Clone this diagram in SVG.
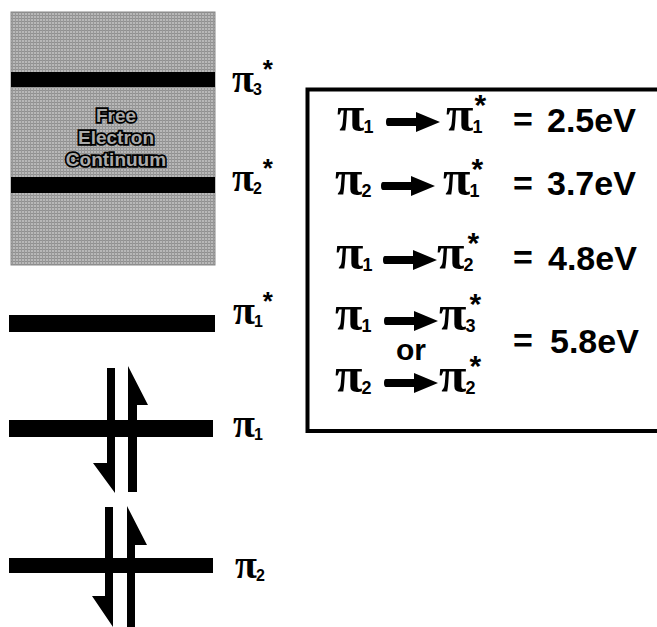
<svg xmlns="http://www.w3.org/2000/svg" width="657" height="627" viewBox="0 0 657 627">
<defs>
<pattern id="tex" width="3" height="3" patternUnits="userSpaceOnUse">
<rect width="3" height="3" fill="#b8b8b8"/>
<rect width="3" height="1" fill="#909090"/>
<rect width="1" height="3" fill="#989898"/>
</pattern>
<g id="arr">
<path d="M2,-4 H30 V-10 L54,0 L30,10 V4 H2 Q0,4 0,0 Q0,-4 2,-4 Z" fill="#000"/>
</g>
<style>
.pi{font-family:"Liberation Serif","DejaVu Serif",serif;font-weight:bold;fill:#000}
.s{font-family:"Liberation Sans",Arial,sans-serif;font-weight:bold;fill:#000}
.lvl{fill:#000}
.fe{font-family:"Liberation Sans",Arial,sans-serif;font-weight:bold;font-size:19px;fill:#aaaaaa;stroke:#000;stroke-width:3.5;paint-order:stroke;text-anchor:middle}
</style>
</defs>
<rect width="657" height="627" fill="#fff"/>

<g id="continuum">
<rect x="11" y="12" width="204" height="253" fill="url(#tex)" stroke="#888" stroke-width="1"/>
<rect x="11" y="72" width="204" height="15" class="lvl"/>
<rect x="11" y="177" width="204" height="16" class="lvl"/>
<text class="fe" x="116" y="122">Free</text>
<text class="fe" x="116" y="144">Electron</text>
<text class="fe" x="116" y="166">Continuum</text>
</g>

<g id="label-pi3s">
<text class="pi" x="232" y="92" font-size="40">π<tspan class="s" font-size="16" dx="-1" dy="3">3</tspan><tspan class="s" font-size="26" dx="1" dy="-17">*</tspan></text>
</g>
<g id="label-pi2s">
<text class="pi" x="232" y="191" font-size="40">π<tspan class="s" font-size="16" dx="-1" dy="3">2</tspan><tspan class="s" font-size="26" dx="1" dy="-17">*</tspan></text>
</g>

<g id="level-pi1s">
<rect x="9" y="315" width="206" height="17" class="lvl"/>
<text class="pi" x="233" y="324" font-size="40">π<tspan class="s" font-size="16" dx="-1" dy="3">1</tspan><tspan class="s" font-size="26" dx="0" dy="-17">*</tspan></text>
</g>

<g id="level-pi1">
<rect x="9" y="420" width="204" height="17" class="lvl"/>
<path d="M107,368 H115 V493 L93,463 H107 Z" class="lvl"/>
<path d="M128,492 V366 L148,405 H137 V492 Z" class="lvl"/>
<text class="pi" x="233" y="437" font-size="40">π<tspan class="s" font-size="16" dx="-1" dy="3">1</tspan></text>
</g>

<g id="level-pi2">
<rect x="9" y="558" width="204" height="15" class="lvl"/>
<path d="M105,507 H113 V627 L92,596 H105 Z" class="lvl"/>
<path d="M127,627 V506 L147,545 H135 V627 Z" class="lvl"/>
<text class="pi" x="235" y="578" font-size="40">π<tspan class="s" font-size="16" dx="-1" dy="3">2</tspan></text>
</g>

<g id="transitions">
<path d="M660,89.5 H307.5 V431 H660" fill="none" stroke="#000" stroke-width="4"/>

<text class="pi" x="337" y="131" font-size="50">π<tspan class="s" font-size="18" dx="-1" dy="2">1</tspan></text>
<use href="#arr" x="386" y="122"/>
<text class="pi" x="446" y="131" font-size="50">π<tspan class="s" font-size="18" dx="-1" dy="2">1</tspan><tspan class="s" font-size="30" dx="-8" dy="-18">*</tspan></text>
<text class="s" x="513" y="131" font-size="34">=</text>
<text class="s" x="547" y="132" font-size="34">2.5eV</text>

<text class="pi" x="335" y="195" font-size="50">π<tspan class="s" font-size="18" dx="-1" dy="2">2</tspan></text>
<use href="#arr" x="381" y="186"/>
<text class="pi" x="443" y="195" font-size="50">π<tspan class="s" font-size="18" dx="-1" dy="2">1</tspan><tspan class="s" font-size="30" dx="-8" dy="-18">*</tspan></text>
<text class="s" x="513" y="195" font-size="34">=</text>
<text class="s" x="547" y="195" font-size="34">3.7eV</text>

<text class="pi" x="336" y="269" font-size="50">π<tspan class="s" font-size="18" dx="-1" dy="2">1</tspan></text>
<use href="#arr" x="383" y="260"/>
<text class="pi" x="437" y="269" font-size="50">π<tspan class="s" font-size="18" dx="-1" dy="2">2</tspan><tspan class="s" font-size="30" dx="-6" dy="-18">*</tspan></text>
<text class="s" x="513" y="269" font-size="34">=</text>
<text class="s" x="548" y="270" font-size="34">4.8eV</text>

<text class="pi" x="335" y="330" font-size="50">π<tspan class="s" font-size="18" dx="-1" dy="2">1</tspan></text>
<use href="#arr" x="384" y="321"/>
<text class="pi" x="439" y="330" font-size="50">π<tspan class="s" font-size="18" dx="-1" dy="2">3</tspan><tspan class="s" font-size="30" dx="-6" dy="-18">*</tspan></text>
<text class="s" x="396" y="360" font-size="30">or</text>
<text class="pi" x="335" y="392" font-size="50">π<tspan class="s" font-size="18" dx="-1" dy="2">2</tspan></text>
<use href="#arr" x="384" y="383"/>
<text class="pi" x="439" y="392" font-size="50">π<tspan class="s" font-size="18" dx="-1" dy="2">2</tspan><tspan class="s" font-size="30" dx="-6" dy="-18">*</tspan></text>
<text class="s" x="513" y="352" font-size="34">=</text>
<text class="s" x="550" y="353" font-size="34">5.8eV</text>
</g>
</svg>
